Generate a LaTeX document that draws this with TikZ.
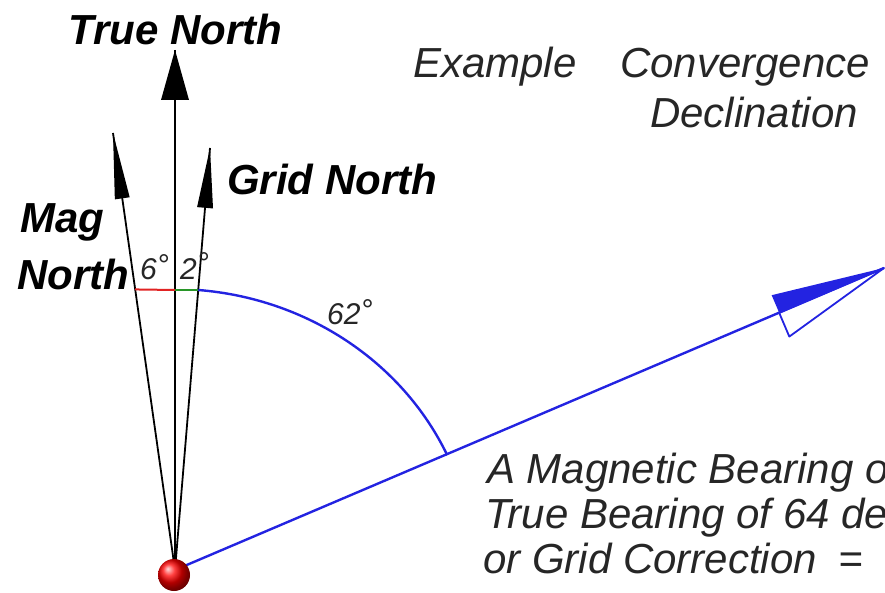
\documentclass[tikz,border=0pt]{standalone}
\usepackage{fontspec}
\setmainfont{Liberation Sans}
\usetikzlibrary{calc}
\definecolor{bbl}{RGB}{35,35,225}
\definecolor{rd}{RGB}{225,35,35}
\definecolor{gr}{RGB}{40,150,40}
\begin{document}
\begin{tikzpicture}[x=1pt,y=1pt,line join=round,
  lbl/.style={font=\fontsize{42}{42}\selectfont\bfseries\itshape,inner sep=0pt,anchor=base west},
  txt/.style={font=\fontsize{42}{42}\selectfont\itshape,inner sep=0pt,anchor=base west,text=black!85},
  deg/.style={font=\fontsize{30}{30}\selectfont\itshape,inner sep=0pt,anchor=base west,text=black!85},
  nline/.style={line width=1.8pt,black},
  bline/.style={line width=2.4pt,bbl}]
\useasboundingbox (0,0) rectangle (885,592);
\clip (0,0) rectangle (885,592);
% key points
\coordinate (O) at (175,22);
\coordinate (TN) at (175,542);
\coordinate (MN) at (113,459);
\coordinate (GN) at (210,444);
\coordinate (BT) at (884,324);
% north lines
\draw[nline] (O) -- (TN);
\draw[nline] (O) -- (MN);
\draw[nline] (O) -- (GN);
% arrowheads
\coordinate (TP) at ($(TN)!50pt!(O)$);
\fill[black] (TN) -- ($(TP)!14pt!90:(TN)$) -- ($(TP)!14pt!-90:(TN)$) -- cycle;
\coordinate (MP) at ($(MN)!66pt!(O)$);
\fill[black] (MN) -- ($(MP)!7.5pt!90:(MN)$) -- ($(MP)!7.5pt!-90:(MN)$) -- cycle;
\coordinate (GP) at ($(GN)!60pt!(O)$);
\fill[black] (GN) -- ($(GP)!8pt!90:(GN)$) -- ($(GP)!8pt!-90:(GN)$) -- cycle;
% angle markers
\coordinate (MX) at ($(O)!0.642!(MN)$);
\coordinate (TX) at (175,302);
\coordinate (GX) at ($(O)!0.665!(GN)$);
\draw[rd,line width=2pt] (MX) -- (TX);
\draw[gr,line width=2pt] (TX) -- (GX |- TX);
\draw[bline] (GX |- TX) arc[start angle=85.2,end angle=24.4,x radius=301,y radius=283] coordinate (AE);
% bearing line
\draw[bline] (O) -- (BT);
\coordinate (BP) at ($(BT)!114pt!(O)$);
\fill[bbl] (BT) -- ($(BP)!19pt!90:(BT)$) -- (BP) -- cycle;
\draw[bbl,line width=1.8pt] (BT) -- (BP) -- ($(BP)!26pt!-90:(BT)$) -- cycle;
% ball
\shade[ball color=red] (174,17) circle[radius=16];
% labels
\node[lbl] (tnl) at (68,547) {True North};
\node[lbl] (gnl) at (227,397) {Grid North};
\node[lbl] (mag) at (20,359) {Mag};
\node[lbl] (nor) at (17,302) {North};
\node[deg] (d6) at (140,312) {6\raisebox{4pt}{°}};
\node[deg] (d2) at (180,312) {2\raisebox{6pt}{°}};
\node[deg] (d62) at (327,267) {62\raisebox{4pt}{°}};
\node[txt] (ex) at (413,514) {Example};
\node[txt] (conv) at (620,514) {Convergence};
\node[txt] (decl) at (650,464) {Declination};
\node[txt] (l1) at (487,109) {A Magnetic Bearing of};
\node[txt] (l2) at (485,64) {True Bearing of 64 de};
\node[txt] (l3) at (483,19) {or Grid Correction\hspace{22pt}=};
\end{tikzpicture}
\end{document}
